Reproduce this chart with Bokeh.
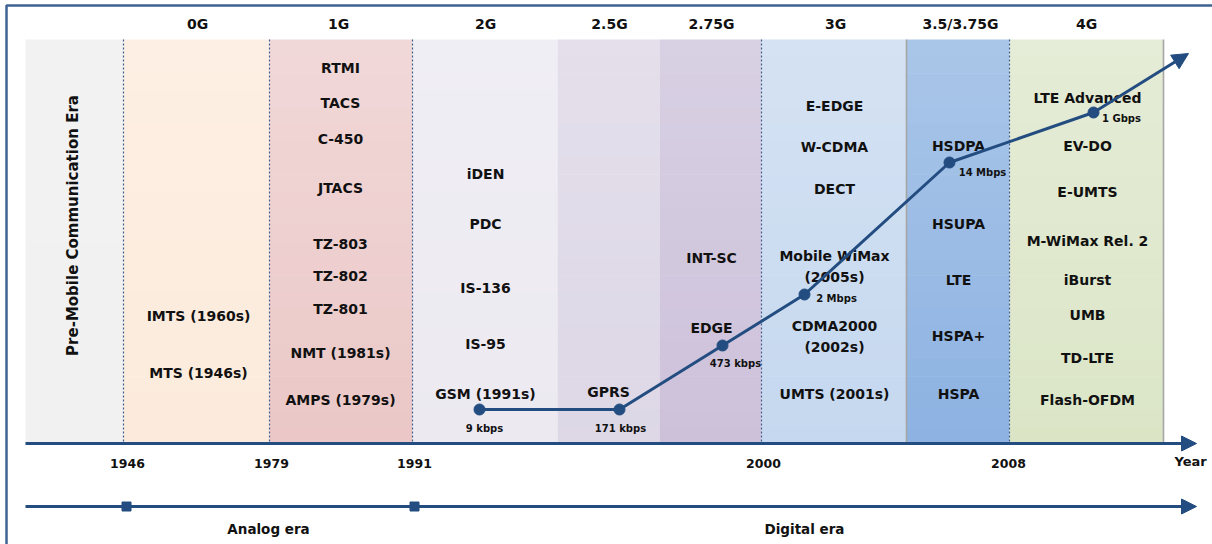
import numpy as np
from bokeh.plotting import figure
from bokeh.models import Range1d, ColumnDataSource, Arrow, NormalHead
from bokeh.core.properties import value
from bokeh.embed import file_html
from bokeh.resources import INLINE

# ---- content -------------------------------------------------------------
era_label = "Pre-Mobile Communication Era"
generations = ["0G", "1G", "2G", "2.5G", "2.75G", "3G", "3.5/3.75G", "4G"]

tech_0g = ["IMTS (1960s)", "MTS (1946s)"]
tech_1g = ["RTMI", "TACS", "C-450", "JTACS", "TZ-803", "TZ-802", "TZ-801",
           "NMT (1981s)", "AMPS (1979s)"]
tech_2g = ["iDEN", "PDC", "IS-136", "IS-95", "GSM (1991s)"]
tech_25g = ["GPRS"]
tech_275g = ["INT-SC", "EDGE"]
tech_3g = ["E-EDGE", "W-CDMA", "DECT", "Mobile WiMax\n(2005s)",
           "CDMA2000\n(2002s)", "UMTS (2001s)"]
tech_35g = ["HSDPA", "HSUPA", "LTE", "HSPA+", "HSPA"]
tech_4g = ["LTE Advanced", "EV-DO", "E-UMTS", "M-WiMax Rel. 2", "iBurst",
           "UMB", "TD-LTE", "Flash-OFDM"]

speed_tech = ["GSM", "GPRS", "EDGE", "Mobile WiMax", "HSDPA", "LTE Advanced"]
speed_text = ["9 kbps", "171 kbps", "473 kbps", "2 Mbps", "14 Mbps", "1 Gbps"]

year_ticks = ["1946", "1979", "1991", "2000", "2008"]
eras = ["Analog era", "Digital era"]

# ---- layout (page coordinates, y grows downward) --------------------------
W, H = 1212, 544
BAND_TOP, AXIS_Y, ERA_Y = 39, 443, 506
band_edges = [25, 123, 269, 412, 557, 659, 761, 906, 1009, 1163]
band_top_colors = ["#f2f2f2", "#fdefe3", "#f1d8d8", "#f0eef5", "#e4dfeb",
                   "#d8d0e3", "#d5e2f3", "#aac6e9", "#e5ecd7"]
band_bot_colors = ["#f1f1f1", "#fcebdc", "#ebc7c7", "#ece9f1", "#ddd7e6",
                   "#cdc1da", "#c5d8ef", "#8db2e1", "#dbe5c6"]
dotted_at = [123, 269, 412, 761, 1009]
grey_at = [906, 1163]

header_x = [197, 338, 485, 609, 711, 835, 960, 1086]
header_y = 23

col_layout = [
    (198, tech_0g, [315, 372]),
    (340, tech_1g, [67, 102, 138, 187, 243, 275, 308, 352, 399]),
    (485, tech_2g, [173, 223, 287, 343, 393]),
    (608, tech_25g, [391]),
    (711, tech_275g, [257, 327]),
    (834, tech_3g, [105, 146, 188, 266, 336, 393]),
    (958, tech_35g, [145, 223, 279, 335, 393]),
    (1087, tech_4g, [97, 145, 191, 240, 279, 314, 357, 399]),
]

pt_x = [479, 619, 722, 804, 949, 1093]
pt_y = [409, 409, 345, 294, 162, 112]
lab_x = [484, 620, 735, 836, 982, 1121]
lab_y = [428, 428, 363, 298, 172, 118]
tip = (1188, 53)

tick_x = [127, 271, 414, 763, 1008]
tick_y = 463
era_mark_x = [126, 414]
era_lab_x = [268, 804]
era_lab_y = 528

NAVY = "#234d80"
FONT = value("DejaVu Sans")


def mix(c1, c2, t):
    a = np.array([int(c1[i:i + 2], 16) for i in (1, 3, 5)], float)
    b = np.array([int(c2[i:i + 2], 16) for i in (1, 3, 5)], float)
    r = np.round(a + (b - a) * t).astype(int)
    return "#%02x%02x%02x" % tuple(r)


p = figure(width=W, height=H, x_range=Range1d(0, W), y_range=Range1d(H, 0),
           output_backend="svg", toolbar_location=None, min_border=0,
           outline_line_color=None, background_fill_color="white",
           border_fill_color="white")
p.axis.visible = False
p.grid.visible = False

# frame around the figure
p.line([6, 6, W + 5], [H + 5, 5, 5], line_color="#3f6294", line_width=2.5)

# generation bands with a gentle vertical gradient
n_strips = 24
qs = dict(left=[], right=[], top=[], bottom=[], color=[])
for i in range(len(band_edges) - 1):
    for k in range(n_strips):
        t0 = BAND_TOP + (AXIS_Y - BAND_TOP) * k / n_strips
        t1 = BAND_TOP + (AXIS_Y - BAND_TOP) * (k + 1) / n_strips
        qs["left"].append(band_edges[i])
        qs["right"].append(band_edges[i + 1])
        qs["top"].append(t0)
        qs["bottom"].append(t1 + 0.6)
        qs["color"].append(mix(band_top_colors[i], band_bot_colors[i],
                               (k + 0.5) / n_strips))
p.quad(left="left", right="right", top="top", bottom="bottom",
       fill_color="color", line_color=None, source=ColumnDataSource(qs))

for x in dotted_at:
    p.line([x, x], [BAND_TOP, AXIS_Y], line_color="#3d5f92", line_width=1.2,
           line_dash="2 2")
for x in grey_at:
    p.line([x, x], [BAND_TOP, AXIS_Y], line_color="#a6a6a6", line_width=1.6)

# generation headers
p.text(x=header_x, y=[header_y] * len(generations), text=generations,
       text_font=FONT, text_font_style="bold", text_font_size="14px",
       text_align="center", text_baseline="middle", text_color="#111111")

# rotated era label in the first band
p.text(x=[72], y=[225], text=[era_label], angle=np.pi / 2,
       text_font=FONT, text_font_style="bold", text_font_size="15px",
       text_align="center", text_baseline="middle", text_color="#111111")

# technology names per generation
tx, ty, tt = [], [], []
for cx, names, ys in col_layout:
    for name, y in zip(names, ys):
        tx.append(cx)
        ty.append(y)
        tt.append(name)
p.text(x="x", y="y", text="text", source=ColumnDataSource(dict(x=tx, y=ty, text=tt)),
       text_font=FONT, text_font_style="bold", text_font_size="14px",
       text_align="center", text_baseline="middle", text_color="#111111",
       text_line_height=1.35)

# data-rate progression
p.line(pt_x, pt_y, line_color=NAVY, line_width=3)
p.add_layout(Arrow(end=NormalHead(size=16, fill_color=NAVY, line_color=NAVY),
                   x_start=pt_x[-1], y_start=pt_y[-1], x_end=tip[0], y_end=tip[1],
                   line_color=NAVY, line_width=3))
p.scatter(pt_x, pt_y, size=11, fill_color=NAVY, line_color=NAVY)
p.text(x=lab_x, y=lab_y, text=speed_text, text_font=FONT,
       text_font_style="bold", text_font_size="10px", text_align="center",
       text_baseline="middle", text_color="#111111")

# year axis
p.add_layout(Arrow(end=NormalHead(size=15, fill_color=NAVY, line_color=NAVY),
                   x_start=25, y_start=AXIS_Y, x_end=1196, y_end=AXIS_Y,
                   line_color=NAVY, line_width=3))
p.text(x=tick_x, y=[tick_y] * len(year_ticks), text=year_ticks, text_font=FONT,
       text_font_style="bold", text_font_size="12.5px", text_align="center",
       text_baseline="middle", text_color="#111111")
p.text(x=[1174], y=[461], text=["Year"], text_font=FONT,
       text_font_style="bold", text_font_size="13px", text_align="left",
       text_baseline="middle", text_color="#111111")

# analog / digital era axis
p.add_layout(Arrow(end=NormalHead(size=15, fill_color=NAVY, line_color=NAVY),
                   x_start=25, y_start=ERA_Y, x_end=1196, y_end=ERA_Y,
                   line_color=NAVY, line_width=3))
p.scatter(era_mark_x, [ERA_Y] * len(era_mark_x), marker="square", size=9,
          fill_color=NAVY, line_color=NAVY)
p.text(x=era_lab_x, y=[era_lab_y] * len(eras), text=eras, text_font=FONT,
       text_font_style="bold", text_font_size="13.5px", text_align="center",
       text_baseline="middle", text_color="#111111")

open("out.html", "w").write(file_html(p, INLINE))
